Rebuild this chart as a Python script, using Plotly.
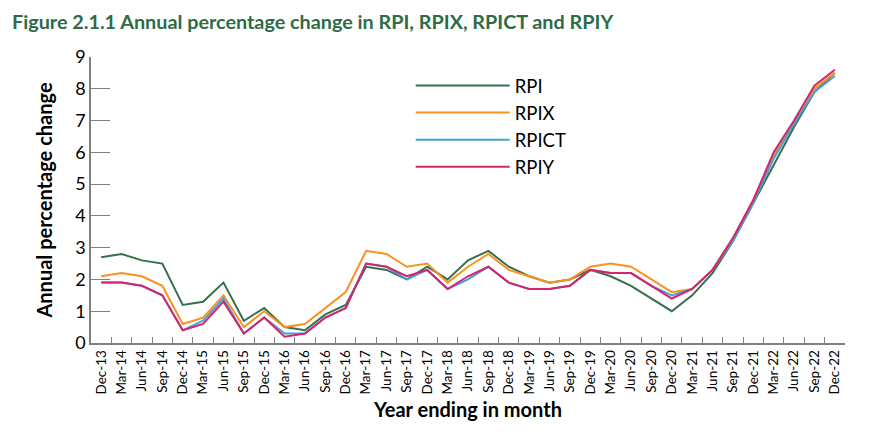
import plotly.graph_objects as go

categories = ["Dec-13"] + [f"{m}-{y}" for y in range(14, 23) for m in ["Mar", "Jun", "Sep", "Dec"]]

rpi = [2.7, 2.8, 2.6, 2.5, 1.2, 1.3, 1.9, 0.7, 1.1, 0.5, 0.4, 0.9, 1.2,
       2.4, 2.3, 2.0, 2.4, 2.0, 2.6, 2.9, 2.4, 2.1, 1.9, 2.0, 2.3,
       2.1, 1.8, 1.4, 1.0, 1.5, 2.2, 3.2, 4.4, 5.6, 6.8, 7.9, 8.5]
rpix = [2.1, 2.2, 2.1, 1.8, 0.6, 0.8, 1.5, 0.5, 1.0, 0.5, 0.6, 1.1, 1.6,
        2.9, 2.8, 2.4, 2.5, 1.9, 2.4, 2.8, 2.3, 2.1, 1.9, 2.0, 2.4,
        2.5, 2.4, 2.0, 1.6, 1.7, 2.3, 3.3, 4.5, 5.9, 6.9, 8.0, 8.5]
rpict = [1.9, 1.9, 1.8, 1.5, 0.4, 0.7, 1.4, 0.3, 0.8, 0.3, 0.3, 0.8, 1.1,
         2.5, 2.4, 2.0, 2.3, 1.7, 2.0, 2.4, 1.9, 1.7, 1.7, 1.8, 2.3,
         2.2, 2.2, 1.8, 1.5, 1.7, 2.3, 3.2, 4.4, 5.8, 6.9, 7.9, 8.4]
rpiy = [1.9, 1.9, 1.8, 1.5, 0.4, 0.6, 1.3, 0.3, 0.8, 0.2, 0.3, 0.8, 1.1,
        2.5, 2.4, 2.1, 2.3, 1.7, 2.1, 2.4, 1.9, 1.7, 1.7, 1.8, 2.3,
        2.2, 2.2, 1.8, 1.4, 1.7, 2.3, 3.3, 4.5, 6.0, 7.0, 8.1, 8.6]

series = [
    ("RPI", rpi, "#36704C"),
    ("RPIX", rpix, "#F7931E"),
    ("RPICT", rpict, "#4A9EDA"),
    ("RPIY", rpiy, "#D4246E"),
]

FONT = "Lato"
fig = go.Figure()
for name, vals, color in series:
    fig.add_trace(go.Scatter(x=categories, y=vals, mode="lines", name=name,
                             line=dict(color=color, width=2)))

fig.update_layout(
    width=883, height=443,
    margin=dict(l=91, r=38, t=57, b=100),
    paper_bgcolor="white", plot_bgcolor="white",
    font=dict(family=FONT, color="#000000"),
    title=dict(text="<b>Figure 2.1.1 Annual percentage change in RPI, RPIX, RPICT and RPIY</b>",
               x=12/883, xanchor="left", y=1-22/443, yanchor="middle",
               font=dict(family=FONT, size=19.8, color="#2E6B47")),
    legend=dict(x=0.424, y=0.965, xanchor="left", yanchor="top",
                font=dict(size=18.5, family=FONT), itemwidth=94,
                bgcolor="rgba(0,0,0,0)", tracegroupgap=0),
    showlegend=True,
)
fig.update_xaxes(
    type="category", tickangle=-90, tickson="boundaries",
    ticks="inside", ticklen=6, tickcolor="#808080", tickwidth=1,
    showline=True, linecolor="#808080", linewidth=1.5,
    showgrid=False, tickfont=dict(size=13.5, family=FONT),
    range=[-0.5, len(categories) - 0.5],
    title=dict(text="<b>Year ending in month</b>", font=dict(size=20, family=FONT), standoff=9),
)
fig.update_yaxes(
    range=[0, 9], dtick=1, ticks="inside", ticklen=19, tickcolor="#808080", tickwidth=1,
    showline=True, linecolor="#808080", linewidth=1.5,
    showgrid=False, zeroline=False, tickfont=dict(size=18, family=FONT),
    title=dict(text="<b>Annual percentage change</b>", font=dict(size=20, family=FONT), standoff=17),
)

fig.write_html("out.html")
